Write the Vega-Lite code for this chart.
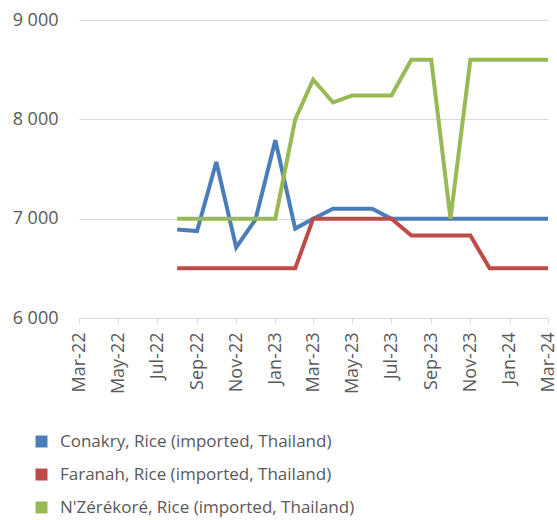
{
  "$schema": "https://vega.github.io/schema/vega-lite/v6.json",
  "width": 469,
  "height": 298,
  "autosize": {"type": "none"},
  "padding": {"left": 79, "top": 20, "right": 9, "bottom": 202},
  "background": "white",
  "config": {"font": "Open Sans", "view": {"stroke": null}},
  "data": {"values": [
    {"date": "2022-08-01", "series": "Conakry, Rice (imported, Thailand)", "price": 6890},
    {"date": "2022-09-01", "series": "Conakry, Rice (imported, Thailand)", "price": 6875},
    {"date": "2022-10-01", "series": "Conakry, Rice (imported, Thailand)", "price": 7570},
    {"date": "2022-11-01", "series": "Conakry, Rice (imported, Thailand)", "price": 6710},
    {"date": "2022-12-01", "series": "Conakry, Rice (imported, Thailand)", "price": 6990},
    {"date": "2023-01-01", "series": "Conakry, Rice (imported, Thailand)", "price": 7790},
    {"date": "2023-02-01", "series": "Conakry, Rice (imported, Thailand)", "price": 6900},
    {"date": "2023-03-01", "series": "Conakry, Rice (imported, Thailand)", "price": 7000},
    {"date": "2023-04-01", "series": "Conakry, Rice (imported, Thailand)", "price": 7100},
    {"date": "2023-05-01", "series": "Conakry, Rice (imported, Thailand)", "price": 7100},
    {"date": "2023-06-01", "series": "Conakry, Rice (imported, Thailand)", "price": 7100},
    {"date": "2023-07-01", "series": "Conakry, Rice (imported, Thailand)", "price": 7000},
    {"date": "2023-08-01", "series": "Conakry, Rice (imported, Thailand)", "price": 7000},
    {"date": "2023-09-01", "series": "Conakry, Rice (imported, Thailand)", "price": 7000},
    {"date": "2023-10-01", "series": "Conakry, Rice (imported, Thailand)", "price": 7000},
    {"date": "2023-11-01", "series": "Conakry, Rice (imported, Thailand)", "price": 7000},
    {"date": "2023-12-01", "series": "Conakry, Rice (imported, Thailand)", "price": 7000},
    {"date": "2024-01-01", "series": "Conakry, Rice (imported, Thailand)", "price": 7000},
    {"date": "2024-02-01", "series": "Conakry, Rice (imported, Thailand)", "price": 7000},
    {"date": "2024-03-01", "series": "Conakry, Rice (imported, Thailand)", "price": 7000},
    {"date": "2022-08-01", "series": "Faranah, Rice (imported, Thailand)", "price": 6500},
    {"date": "2022-09-01", "series": "Faranah, Rice (imported, Thailand)", "price": 6500},
    {"date": "2022-10-01", "series": "Faranah, Rice (imported, Thailand)", "price": 6500},
    {"date": "2022-11-01", "series": "Faranah, Rice (imported, Thailand)", "price": 6500},
    {"date": "2022-12-01", "series": "Faranah, Rice (imported, Thailand)", "price": 6500},
    {"date": "2023-01-01", "series": "Faranah, Rice (imported, Thailand)", "price": 6500},
    {"date": "2023-02-01", "series": "Faranah, Rice (imported, Thailand)", "price": 6500},
    {"date": "2023-03-01", "series": "Faranah, Rice (imported, Thailand)", "price": 7000},
    {"date": "2023-04-01", "series": "Faranah, Rice (imported, Thailand)", "price": 7000},
    {"date": "2023-05-01", "series": "Faranah, Rice (imported, Thailand)", "price": 7000},
    {"date": "2023-06-01", "series": "Faranah, Rice (imported, Thailand)", "price": 7000},
    {"date": "2023-07-01", "series": "Faranah, Rice (imported, Thailand)", "price": 7000},
    {"date": "2023-08-01", "series": "Faranah, Rice (imported, Thailand)", "price": 6830},
    {"date": "2023-09-01", "series": "Faranah, Rice (imported, Thailand)", "price": 6830},
    {"date": "2023-10-01", "series": "Faranah, Rice (imported, Thailand)", "price": 6830},
    {"date": "2023-11-01", "series": "Faranah, Rice (imported, Thailand)", "price": 6830},
    {"date": "2023-12-01", "series": "Faranah, Rice (imported, Thailand)", "price": 6500},
    {"date": "2024-01-01", "series": "Faranah, Rice (imported, Thailand)", "price": 6500},
    {"date": "2024-02-01", "series": "Faranah, Rice (imported, Thailand)", "price": 6500},
    {"date": "2024-03-01", "series": "Faranah, Rice (imported, Thailand)", "price": 6500},
    {"date": "2022-08-01", "series": "N'Zérékoré, Rice (imported, Thailand)", "price": 7000},
    {"date": "2022-09-01", "series": "N'Zérékoré, Rice (imported, Thailand)", "price": 7000},
    {"date": "2022-10-01", "series": "N'Zérékoré, Rice (imported, Thailand)", "price": 7000},
    {"date": "2022-11-01", "series": "N'Zérékoré, Rice (imported, Thailand)", "price": 7000},
    {"date": "2022-12-01", "series": "N'Zérékoré, Rice (imported, Thailand)", "price": 7000},
    {"date": "2023-01-01", "series": "N'Zérékoré, Rice (imported, Thailand)", "price": 7000},
    {"date": "2023-02-01", "series": "N'Zérékoré, Rice (imported, Thailand)", "price": 8000},
    {"date": "2023-03-01", "series": "N'Zérékoré, Rice (imported, Thailand)", "price": 8400},
    {"date": "2023-04-01", "series": "N'Zérékoré, Rice (imported, Thailand)", "price": 8170},
    {"date": "2023-05-01", "series": "N'Zérékoré, Rice (imported, Thailand)", "price": 8240},
    {"date": "2023-06-01", "series": "N'Zérékoré, Rice (imported, Thailand)", "price": 8240},
    {"date": "2023-07-01", "series": "N'Zérékoré, Rice (imported, Thailand)", "price": 8240},
    {"date": "2023-08-01", "series": "N'Zérékoré, Rice (imported, Thailand)", "price": 8600},
    {"date": "2023-09-01", "series": "N'Zérékoré, Rice (imported, Thailand)", "price": 8600},
    {"date": "2023-10-01", "series": "N'Zérékoré, Rice (imported, Thailand)", "price": 7000},
    {"date": "2023-11-01", "series": "N'Zérékoré, Rice (imported, Thailand)", "price": 8600},
    {"date": "2023-12-01", "series": "N'Zérékoré, Rice (imported, Thailand)", "price": 8600},
    {"date": "2024-01-01", "series": "N'Zérékoré, Rice (imported, Thailand)", "price": 8600},
    {"date": "2024-02-01", "series": "N'Zérékoré, Rice (imported, Thailand)", "price": 8600},
    {"date": "2024-03-01", "series": "N'Zérékoré, Rice (imported, Thailand)", "price": 8600}
  ]},
  "mark": {"type": "line", "strokeWidth": 4, "strokeJoin": "miter", "interpolate": "linear"},
  "encoding": {
    "x": {
      "field": "date", "type": "temporal",
      "scale": {"domain": ["2022-03-01", "2024-03-01"]},
      "axis": {
        "title": null,
        "values": ["2022-03-01", "2022-05-01", "2022-07-01", "2022-09-01", "2022-11-01", "2023-01-01", "2023-03-01", "2023-05-01", "2023-07-01", "2023-09-01", "2023-11-01", "2024-01-01", "2024-03-01"],
        "format": "%b-%y",
        "labelAngle": -90,
        "labelAlign": "right",
        "labelBaseline": "middle",
        "labelFontSize": 18,
        "labelColor": "#595959",
        "labelPadding": 9,
        "labelFlush": false,
        "labelOverlap": false,
        "grid": false,
        "domainColor": "#d9d9d9",
        "tickColor": "#d9d9d9",
        "tickSize": 5
      }
    },
    "y": {
      "field": "price", "type": "quantitative",
      "scale": {"domain": [6000, 9000], "nice": false, "zero": false},
      "axis": {
        "title": null,
        "values": [6000, 7000, 8000, 9000],
        "labelExpr": "replace(format(datum.value, ','), ',', ' ')",
        "labelFontSize": 18,
        "labelColor": "#595959",
        "labelPadding": 21,
        "domain": false,
        "ticks": false,
        "gridColor": "#d9d9d9",
        "gridWidth": 1
      }
    },
    "color": {
      "field": "series", "type": "nominal",
      "scale": {
        "domain": ["Conakry, Rice (imported, Thailand)", "Faranah, Rice (imported, Thailand)", "N'Zérékoré, Rice (imported, Thailand)"],
        "range": ["#4a7ebb", "#be4b48", "#98b954"]
      },
      "legend": {
        "title": null,
        "orient": "none",
        "legendX": -46,
        "legendY": 413,
        "direction": "vertical",
        "symbolType": "square",
        "symbolSize": 144,
        "symbolStrokeWidth": 0,
        "labelFontSize": 17,
        "labelColor": "#595959",
        "labelOffset": 10,
        "labelLimit": 400,
        "rowPadding": 15,
        "encode": {
          "symbols": {"update": {"fill": {"scale": "color", "field": "value"}, "fillOpacity": {"value": 1}}}
        }
      }
    }
  }
}
